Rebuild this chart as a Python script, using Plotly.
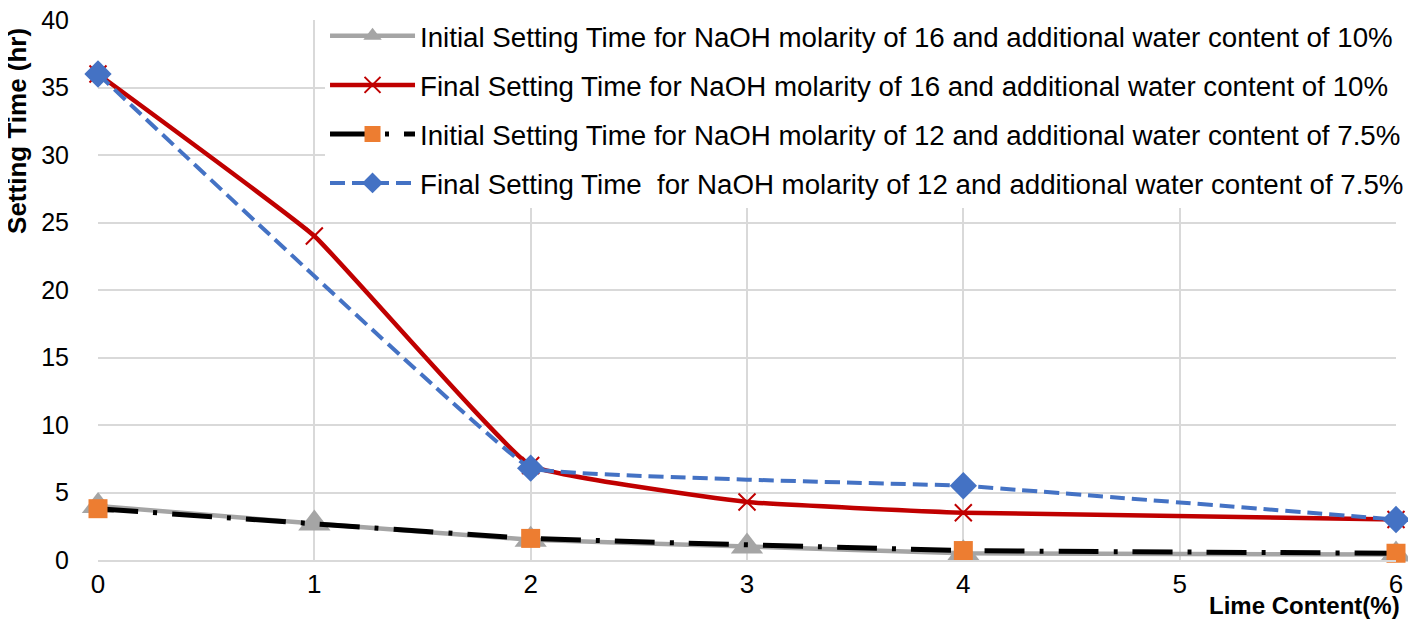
import plotly.graph_objects as go

# lime content (%)
lime_16 = [0, 1, 2, 3, 4, 6]
lime_12 = [0, 2, 4, 6]

# setting times (hr)
initial_16 = [4.0, 2.7, 1.5, 1.0, 0.5, 0.4]
final_16 = [36.0, 24.0, 7.0, 4.3, 3.5, 3.0]
initial_12 = [3.8, 1.6, 0.7, 0.5]
final_12 = [36.0, 6.8, 5.5, 3.0]

names = [
    "Initial Setting Time for NaOH molarity of 16 and additional water content of 10%",
    "Final Setting Time for NaOH molarity of 16 and additional water content of 10%",
    "Initial Setting Time for NaOH molarity of 12 and additional water content of 7.5%",
    "Final Setting Time  for NaOH molarity of 12 and additional water content of 7.5%",
]

FONT = "Liberation Sans, Arial, sans-serif"

fig = go.Figure()
fig.add_trace(go.Scatter(
    x=lime_16, y=initial_16, name=names[0], mode="lines+markers",
    legendgroup="a", cliponaxis=False,
    line=dict(color="#A5A5A5", width=4.5, shape="spline", smoothing=0.2),
    marker=dict(symbol="triangle-up", size=28, color="#A5A5A5"),
))
fig.add_trace(go.Scatter(
    x=lime_16, y=final_16, name=names[1], mode="lines+markers",
    legendgroup="b", cliponaxis=False,
    line=dict(color="#C00000", width=4.5, shape="spline", smoothing=0.3),
    marker=dict(symbol="x-thin", size=17, line=dict(color="#C00000", width=2)),
))
fig.add_trace(go.Scatter(
    x=lime_12, y=initial_12, name=names[2], mode="lines+markers",
    legendgroup="c", cliponaxis=False,
    line=dict(color="black", width=5, dash="40px,15px,4px,15px",
              shape="spline", smoothing=0.2),
    marker=dict(symbol="square", size=19, color="#ED7D31"),
))
fig.add_trace(go.Scatter(
    x=lime_12, y=final_12, name=names[3], mode="lines+markers",
    legendgroup="d", cliponaxis=False,
    line=dict(color="#4472C4", width=4, dash="15px,7px",
              shape="spline", smoothing=0.15),
    marker=dict(symbol="diamond", size=21, color="#4472C4"),
))

# the page body shifts the figure 8px to the right
fig.update_layout(
    width=1408, height=630,
    margin=dict(l=90, r=20, t=12, b=78, autoexpand=False),
    paper_bgcolor="white", plot_bgcolor="white",
    font=dict(family=FONT, size=26, color="black"),
    showlegend=True,
    legend=dict(
        x=0.1749, xanchor="left", y=1.016, yanchor="top",
        bgcolor="white", itemwidth=85, tracegroupgap=10,
        font=dict(size=27.7),
    ),
    annotations=[
        dict(
            text="<b>Lime Content(%)</b>", xref="paper", yref="paper",
            x=1.005, y=-0.085, xanchor="right", yanchor="middle", showarrow=False,
            font=dict(size=24),
        ),
        dict(
            text="<b>Setting Time (hr)</b>", xref="paper", yref="paper",
            x=-0.0624, y=0.989, xanchor="center", yanchor="top", showarrow=False,
            textangle=-90, font=dict(size=26),
        ),
    ],
)
fig.update_xaxes(
    range=[0, 6], dtick=1, showgrid=True, gridcolor="#D9D9D9", gridwidth=1.5,
    zeroline=False, showline=True, linecolor="#D9D9D9", linewidth=1.5,
    ticks="", tickfont=dict(size=26), ticklabelstandoff=0, automargin=False,
)
fig.update_yaxes(
    range=[0, 40], dtick=5, showgrid=True, gridcolor="#D9D9D9", gridwidth=1.5,
    zeroline=False, showline=False, ticks="", tickfont=dict(size=25),
    ticklabelstandoff=28, ticklabeloverflow="allow", automargin=False,
)

fig.write_html("out.html")
